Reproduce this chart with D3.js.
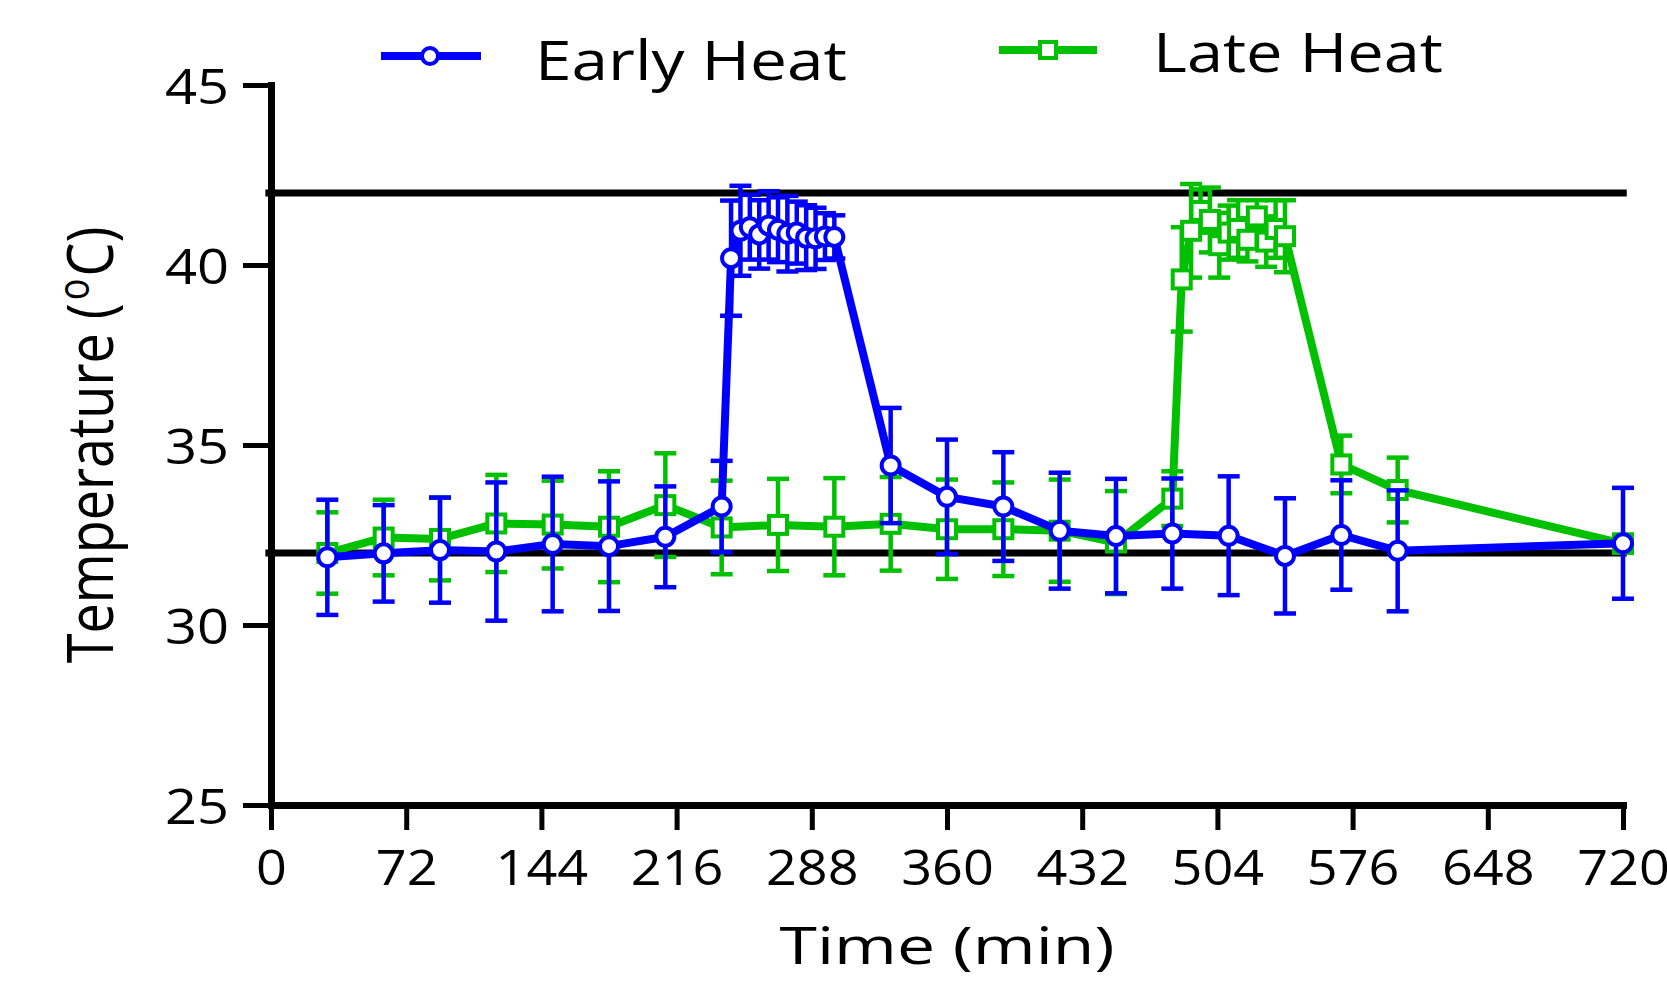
<!DOCTYPE html>
<html>
<head>
<meta charset="utf-8">
<script src="https://cdn.jsdelivr.net/npm/d3@7"></script>
<style>
  html, body { margin: 0; padding: 0; background: #fff; }
  svg { display: block; }
  text { font-family: "Open Sans", "DejaVu Sans", sans-serif; fill: #000; }
</style>
</head>
<body>
<svg id="chart" width="1667" height="992"></svg>
<script>
// Skin temperature over time, mean ± SD, for the two heating protocols
const earlyTime = [30, 60, 90, 120, 150, 180, 210, 240, 245, 250, 255, 260, 265, 270, 275, 280, 285, 290, 295, 300, 330, 360, 390, 420, 450, 480, 510, 540, 570, 600, 720];
const earlyMean = [31.88, 31.99, 32.08, 32.04, 32.25, 32.19, 32.45, 33.29, 40.19, 40.95, 41.05, 40.85, 41.1, 40.98, 40.87, 40.9, 40.76, 40.74, 40.79, 40.78, 34.43, 33.56, 33.29, 32.62, 32.47, 32.54, 32.48, 31.92, 32.5, 32.06, 32.27];
const earlySD   = [1.6, 1.34, 1.46, 1.92, 1.87, 1.8, 1.4, 1.27, 1.6, 1.25, 0.9, 0.95, 0.95, 0.9, 1.05, 0.86, 0.9, 0.85, 0.65, 0.6, 1.6, 1.59, 1.51, 1.61, 1.59, 1.53, 1.65, 1.6, 1.52, 1.68, 1.54];

const lateTime = [30, 60, 90, 120, 150, 180, 210, 240, 270, 300, 330, 360, 390, 420, 450, 480, 485, 490, 495, 500, 505, 510, 515, 520, 525, 530, 535, 540, 570, 600, 720];
const lateMean = [32.0, 32.43, 32.39, 32.82, 32.79, 32.73, 33.33, 32.71, 32.78, 32.73, 32.81, 32.66, 32.66, 32.62, 32.29, 33.51, 39.6, 40.95, 41.5, 41.25, 40.55, 40.9, 41.0, 40.7, 41.35, 40.65, 41.0, 40.8, 34.46, 33.75, 32.26];
const lateSD   = [1.13, 1.05, 1.15, 1.35, 1.22, 1.54, 1.44, 1.3, 1.28, 1.35, 1.3, 1.38, 1.3, 1.42, 1.43, 0.76, 1.45, 1.3, 0.6, 0.9, 0.9, 0.75, 0.8, 0.6, 0.45, 0.7, 0.8, 1.0, 0.8, 0.9, 0.25];

const seriesNames = ["Early Heat", "Late Heat"];
const xTicks = [0, 72, 144, 216, 288, 360, 432, 504, 576, 648, 720];
const yTicks = [25, 30, 35, 40, 45];
const refTemps = [32, 42];
const xTitle = "Time (min)";

const BLUE = "#0000ff", GREEN = "#00c000";

const svg = d3.select("#chart");
const x = d3.scaleLinear().domain([0, 720]).range([271, 1623]);
const y = d3.scaleLinear().domain([25, 45]).range([805, 85]);

function stretch(sel, k) {
  sel.each(function () {
    const w = this.getComputedTextLength();
    d3.select(this).attr("textLength", w * k).attr("lengthAdjust", "spacingAndGlyphs");
  });
}

// Reference temperature lines
svg.append("g").selectAll("line").data(refTemps).join("line")
  .attr("x1", x(-3)).attr("x2", x(722))
  .attr("y1", d => y(d)).attr("y2", d => y(d))
  .attr("stroke", "#000").attr("stroke-width", 7);

// Axes
const gx = svg.append("g").attr("transform", `translate(0,${y(25)})`)
  .call(d3.axisBottom(x).tickValues(xTicks).tickSize(25).tickSizeOuter(0));
const gy = svg.append("g").attr("transform", `translate(${x(0)},0)`)
  .call(d3.axisLeft(y).tickValues(yTicks).tickSize(28).tickSizeOuter(0));
[gx, gy].forEach(g => {
  g.select(".domain").attr("stroke", "#000").attr("stroke-width", 7).attr("stroke-linecap", "square");
  g.selectAll(".tick line").attr("stroke", "#000").attr("stroke-width", 5);
  g.selectAll(".tick text").attr("font-size", 50).attr("font-family", null).attr("fill", "#000");
});
gx.selectAll(".tick text").attr("y", 80).attr("dy", 0);
gy.selectAll(".tick text").attr("x", -42).attr("dy", "0.36em");
stretch(gx.selectAll(".tick text"), 1.08);
stretch(gy.selectAll(".tick text"), 1.12);

// Series
function drawSeries(times, means, sds, color, marker) {
  const pts = times.map((t, i) => ({ t, m: means[i], s: sds[i] }));
  const g = svg.append("g");
  const eb = g.append("g").attr("stroke", color).attr("stroke-width", 4.5);
  eb.selectAll("line.v").data(pts).join("line").attr("class", "v")
    .attr("x1", d => x(d.t)).attr("x2", d => x(d.t))
    .attr("y1", d => y(d.m + d.s)).attr("y2", d => y(d.m - d.s));
  ["top", "bot"].forEach(side => {
    eb.selectAll("line." + side).data(pts).join("line").attr("class", side)
      .attr("x1", d => x(d.t) - 11).attr("x2", d => x(d.t) + 11)
      .attr("y1", d => y(side === "top" ? d.m + d.s : d.m - d.s))
      .attr("y2", d => y(side === "top" ? d.m + d.s : d.m - d.s));
  });
  g.append("path").datum(pts)
    .attr("fill", "none").attr("stroke", color).attr("stroke-width", 8)
    .attr("stroke-linejoin", "round")
    .attr("d", d3.line().x(d => x(d.t)).y(d => y(d.m)));
  const mk = g.append("g");
  if (marker === "circle") {
    mk.selectAll("circle").data(pts).join("circle")
      .attr("cx", d => x(d.t)).attr("cy", d => y(d.m)).attr("r", 9)
      .attr("fill", "#fff").attr("stroke", color).attr("stroke-width", 4);
  } else {
    mk.selectAll("rect").data(pts).join("rect")
      .attr("x", d => x(d.t) - 9).attr("y", d => y(d.m) - 9)
      .attr("width", 18).attr("height", 18)
      .attr("fill", "#fff").attr("stroke", color).attr("stroke-width", 4);
  }
}
drawSeries(lateTime, lateMean, lateSD, GREEN, "square");
drawSeries(earlyTime, earlyMean, earlySD, BLUE, "circle");

// Legend
const lg = svg.append("g");
lg.append("line").attr("x1", 381).attr("x2", 481).attr("y1", 56).attr("y2", 56)
  .attr("stroke", BLUE).attr("stroke-width", 8);
lg.append("circle").attr("cx", 430).attr("cy", 56).attr("r", 8)
  .attr("fill", "#fff").attr("stroke", BLUE).attr("stroke-width", 4);
lg.append("text").attr("x", 535).attr("y", 80).attr("font-size", 55)
  .text(seriesNames[0]).attr("textLength", 312).attr("lengthAdjust", "spacingAndGlyphs");
lg.append("line").attr("x1", 999).attr("x2", 1097).attr("y1", 50).attr("y2", 50)
  .attr("stroke", GREEN).attr("stroke-width", 8);
lg.append("rect").attr("x", 1040).attr("y", 42).attr("width", 16).attr("height", 16)
  .attr("fill", "#fff").attr("stroke", GREEN).attr("stroke-width", 4);
lg.append("text").attr("x", 1153).attr("y", 72).attr("font-size", 55)
  .text(seriesNames[1]).attr("textLength", 290).attr("lengthAdjust", "spacingAndGlyphs");

// Axis titles
svg.append("text").attr("x", (x(0) + x(720)) / 2).attr("y", 964)
  .attr("text-anchor", "middle").attr("font-size", 52)
  .text(xTitle).attr("textLength", 335).attr("lengthAdjust", "spacingAndGlyphs");

const yt = svg.append("text")
  .attr("transform", `translate(113,${(y(25) + y(45)) / 2}) scale(1.2,1) rotate(-90)`)
  .attr("text-anchor", "middle").attr("font-size", 54);
yt.append("tspan").text("Temperature (");
yt.append("tspan").text("o").attr("font-size", 36).attr("dy", -20).attr("dx", 3);
yt.append("tspan").text("C)").attr("dy", 20).attr("dx", 2);
</script>
</body>
</html>
